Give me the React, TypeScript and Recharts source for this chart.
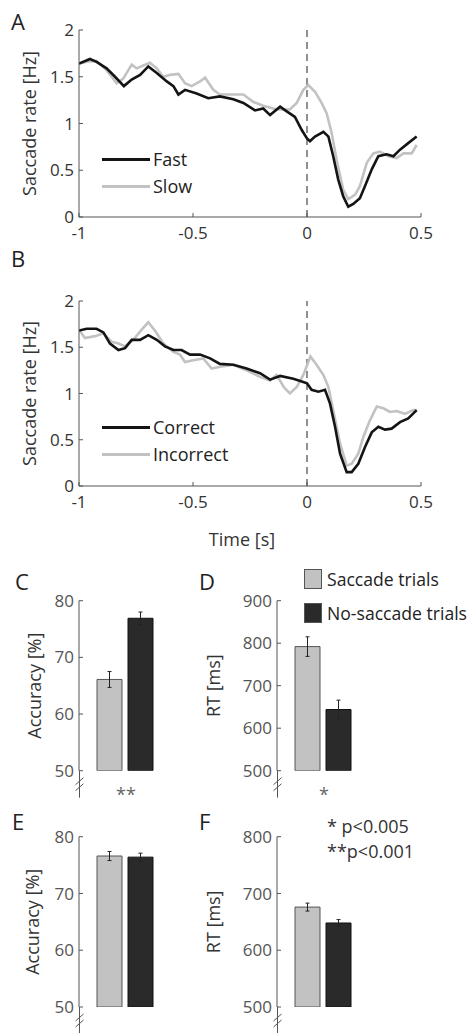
import React from 'react';
import { LineChart, Line, XAxis, YAxis, ReferenceLine, BarChart, Bar, ErrorBar, Legend } from 'recharts';

const FONT = '"Open Sans", sans-serif';
const AXIS = '#555';
const DARK = '#141414';
const LIGHT = '#c2c2c2';

// A: saccade rate, fast vs slow responses  [time s, rate Hz]
const fastA = [
  [-1, 1.64], [-0.952, 1.69], [-0.923, 1.66], [-0.879, 1.59], [-0.842, 1.5], [-0.803, 1.4],
  [-0.769, 1.47], [-0.732, 1.52], [-0.696, 1.61], [-0.659, 1.54], [-0.615, 1.45], [-0.586, 1.4],
  [-0.564, 1.31], [-0.535, 1.36], [-0.484, 1.32], [-0.433, 1.27], [-0.382, 1.29], [-0.323, 1.26],
  [-0.279, 1.22], [-0.228, 1.14], [-0.192, 1.16], [-0.162, 1.09], [-0.118, 1.18], [-0.089, 1.13],
  [-0.053, 1.07], [-0.023, 0.93], [0, 0.84], [0.013, 0.81], [0.035, 0.86], [0.072, 0.91],
  [0.094, 0.86], [0.115, 0.65], [0.137, 0.4], [0.159, 0.22], [0.181, 0.11], [0.203, 0.14],
  [0.232, 0.2], [0.254, 0.33], [0.284, 0.51], [0.313, 0.65], [0.349, 0.67], [0.379, 0.65],
  [0.408, 0.72], [0.444, 0.79], [0.481, 0.86],
];
const slowA = [
  [-1, 1.64], [-0.966, 1.66], [-0.923, 1.67], [-0.879, 1.57], [-0.835, 1.43], [-0.806, 1.48],
  [-0.769, 1.63], [-0.747, 1.59], [-0.718, 1.62], [-0.689, 1.65], [-0.659, 1.59], [-0.63, 1.5],
  [-0.601, 1.52], [-0.564, 1.53], [-0.535, 1.43], [-0.506, 1.4], [-0.469, 1.45], [-0.447, 1.49],
  [-0.411, 1.36], [-0.382, 1.31], [-0.323, 1.31], [-0.279, 1.31], [-0.235, 1.23], [-0.192, 1.19],
  [-0.133, 1.15], [-0.075, 1.15], [-0.045, 1.22], [-0.016, 1.36], [0.006, 1.41], [0.035, 1.34],
  [0.064, 1.22], [0.086, 1.11], [0.108, 0.9], [0.13, 0.61], [0.159, 0.29], [0.181, 0.19],
  [0.211, 0.24], [0.232, 0.33], [0.262, 0.58], [0.291, 0.68], [0.32, 0.7], [0.357, 0.65],
  [0.393, 0.63], [0.423, 0.68], [0.459, 0.68], [0.481, 0.77],
];

// B: correct vs incorrect
const correctB = [
  [-1, 1.68], [-0.966, 1.7], [-0.923, 1.7], [-0.893, 1.66], [-0.864, 1.54], [-0.827, 1.47],
  [-0.798, 1.49], [-0.769, 1.58], [-0.732, 1.58], [-0.696, 1.63], [-0.659, 1.58], [-0.623, 1.51],
  [-0.586, 1.47], [-0.55, 1.47], [-0.513, 1.42], [-0.469, 1.42], [-0.425, 1.38], [-0.382, 1.32],
  [-0.323, 1.31], [-0.265, 1.27], [-0.206, 1.22], [-0.162, 1.15], [-0.118, 1.19], [-0.06, 1.16],
  [-0.023, 1.13], [0, 1.11], [0.02, 1.04], [0.05, 1.02], [0.079, 1.04], [0.101, 0.89],
  [0.123, 0.64], [0.145, 0.35], [0.174, 0.15], [0.196, 0.15], [0.225, 0.24], [0.254, 0.42],
  [0.284, 0.58], [0.313, 0.64], [0.342, 0.61], [0.371, 0.62], [0.408, 0.69], [0.444, 0.73],
  [0.481, 0.82],
];
const incorrectB = [
  [-1, 1.69], [-0.974, 1.6], [-0.93, 1.62], [-0.893, 1.65], [-0.857, 1.56], [-0.827, 1.54],
  [-0.798, 1.51], [-0.762, 1.58], [-0.725, 1.69], [-0.696, 1.77], [-0.667, 1.68], [-0.63, 1.54],
  [-0.586, 1.45], [-0.557, 1.42], [-0.535, 1.34], [-0.499, 1.36], [-0.455, 1.38], [-0.418, 1.27],
  [-0.382, 1.29], [-0.323, 1.31], [-0.265, 1.25], [-0.206, 1.18], [-0.162, 1.14], [-0.133, 1.2],
  [-0.102, 1.07], [-0.075, 1.0], [-0.045, 1.07], [-0.016, 1.2], [0.015, 1.4], [0.042, 1.31],
  [0.072, 1.2], [0.094, 1.07], [0.115, 0.82], [0.145, 0.46], [0.174, 0.22], [0.196, 0.24],
  [0.225, 0.35], [0.247, 0.53], [0.276, 0.71], [0.306, 0.86], [0.335, 0.84], [0.364, 0.8],
  [0.393, 0.81], [0.43, 0.78], [0.466, 0.82], [0.481, 0.82],
];

const timeTicks = [-1, -0.5, 0, 0.5];
const rateTicks = [0, 0.5, 1, 1.5, 2];

// C-F: saccade vs no-saccade trials, mean and s.e.m.
const trialTypes = ['Saccade trials', 'No-saccade trials'];
const accC = [66.1, 76.9];
const accCErr = [1.4, 1.1];
const rtD = [792, 644];
const rtDErr = [23, 22];
const accE = [76.6, 76.4];
const accEErr = [0.8, 0.7];
const rtF = [676, 648];
const rtFErr = [7, 6];
const accTicks = [50, 60, 70, 80];
const rtTicksD = [500, 600, 700, 800, 900];
const rtTicksF = [500, 600, 700, 800];

const toPoints = (arr: number[][]) => arr.map(([t, v]) => ({ t, v }));

const barRow = (vals: number[], errs: number[]) => [
  { group: 'all', saccade: vals[0], noSaccade: vals[1], saccadeErr: errs[0], noSaccadeErr: errs[1] },
];

const TICK_MARGIN_X = 9;
const TICK_MARGIN_Y = 5;

function makeXTick(color: string) {
  return (props: any) => {
    const { x, y, payload } = props;
    const axisY = y - TICK_MARGIN_X;
    return (
      <g>
        <line x1={x} x2={x} y1={axisY} y2={axisY - 4} stroke={AXIS} />
        <text x={x} y={y} dy="0.75em" textAnchor="middle" fill={color} fontSize={17} fontFamily={FONT}>
          {payload.value}
        </text>
      </g>
    );
  };
}

function makeYTick(color: string) {
  return (props: any) => {
    const { x, y, payload } = props;
    const axisX = x + TICK_MARGIN_Y;
    return (
      <g>
        <line x1={axisX} x2={axisX + 4} y1={y} y2={y} stroke={AXIS} />
        <text x={x} y={y} dy="0.36em" textAnchor="end" fill={color} fontSize={17} fontFamily={FONT}>
          {payload.value}
        </text>
      </g>
    );
  };
}

function yLabel(text: string, dx: number) {
  return (props: any) => {
    const vb = props.viewBox;
    const cx = vb.x + dx;
    const cy = vb.y + vb.height / 2;
    return (
      <text x={cx} y={cy} transform={`rotate(-90 ${cx} ${cy})`} textAnchor="middle" dominantBaseline="central"
        fill="#333" fontSize={18} fontFamily={FONT}>
        {text}
      </text>
    );
  };
}

function timeLabel(props: any) {
  const vb = props.viewBox;
  return (
    <text x={vb.x + vb.width / 2 - 8} y={vb.y + 60} textAnchor="middle" fill="#333" fontSize={18} fontFamily={FONT}>
      Time [s]
    </text>
  );
}

interface RatePanelProps {
  top: number;
  height: number;
  marginTop: number;
  xAxisHeight: number;
  darkPts: number[][];
  lightPts: number[][];
  darkName: string;
  lightName: string;
  showTimeLabel?: boolean;
  legendTop: number;
}

function RatePanel(p: RatePanelProps) {
  const legendContent = () => (
    <div style={{ fontFamily: FONT, fontSize: 18, color: '#222', lineHeight: '27px' }}>
      {[{ n: p.darkName, c: DARK }, { n: p.lightName, c: LIGHT }].map((e) => (
        <div key={e.n} style={{ display: 'flex', alignItems: 'center' }}>
          <span style={{ display: 'inline-block', width: 48, height: 3, background: e.c, marginRight: 3 }} />
          {e.n}
        </div>
      ))}
    </div>
  );
  return (
    <div style={{ position: 'absolute', left: 0, top: p.top }}>
      <LineChart width={476} height={p.height} margin={{ top: p.marginTop, right: 55, bottom: 0, left: 0 }}>
        <XAxis type="number" dataKey="t" domain={[-1, 0.5]} ticks={timeTicks} allowDataOverflow
          height={p.xAxisHeight} tickSize={0} tickMargin={TICK_MARGIN_X} tickLine={false}
          stroke={AXIS} tick={makeXTick('#333')} label={p.showTimeLabel ? timeLabel : undefined} />
        <YAxis type="number" dataKey="v" domain={[0, 2]} ticks={rateTicks} width={79}
          tickSize={0} tickMargin={TICK_MARGIN_Y} tickLine={false} stroke={AXIS}
          tick={makeYTick('#333')} label={yLabel('Saccade rate [Hz]', 29)} />
        <ReferenceLine x={0} stroke="#555" strokeDasharray="7 5" strokeWidth={1.3} />
        <Line data={toPoints(p.lightPts)} dataKey="v" name={p.lightName} type="linear" stroke={LIGHT}
          strokeWidth={2.6} dot={false} isAnimationActive={false} />
        <Line data={toPoints(p.darkPts)} dataKey="v" name={p.darkName} type="linear" stroke={DARK}
          strokeWidth={2.6} dot={false} isAnimationActive={false} />
        <Legend layout="horizontal" verticalAlign="middle" content={legendContent}
          wrapperStyle={{ left: 102, top: p.legendTop, width: 'auto' }} />
      </LineChart>
    </div>
  );
}

interface BarPanelProps {
  left: number;
  top: number;
  width: number;
  height: number;
  axisWidth: number;
  marginTop: number;
  marginBottom: number;
  marginRight: number;
  vals: number[];
  errs: number[];
  domain: [number, number];
  ticks: number[];
  label: string;
  labelDx: number;
  legend?: boolean;
}

function BarPanel(p: BarPanelProps) {
  const legendContent = () => (
    <div style={{ fontFamily: FONT, fontSize: 17.6, color: '#222' }}>
      {[{ n: trialTypes[0], c: LIGHT }, { n: trialTypes[1], c: '#2a2a2a' }].map((e, i) => (
        <div key={e.n} style={{ display: 'flex', alignItems: 'center', marginBottom: i === 0 ? 14 : 0, height: 20 }}>
          <span style={{ display: 'inline-block', width: 16, height: 18, background: e.c, border: '1px solid #555', marginRight: 5 }} />
          {e.n}
        </div>
      ))}
    </div>
  );
  return (
    <div style={{ position: 'absolute', left: p.left, top: p.top }}>
      <BarChart width={p.width} height={p.height} data={barRow(p.vals, p.errs)}
        margin={{ top: p.marginTop, right: p.marginRight, bottom: p.marginBottom, left: 0 }}
        barCategoryGap={18} barGap={6} barSize={25}>
        <XAxis dataKey="group" hide />
        <YAxis type="number" domain={p.domain} ticks={p.ticks} width={p.axisWidth} allowDataOverflow
          tickSize={0} tickMargin={TICK_MARGIN_Y} tickLine={false} stroke={AXIS}
          tick={makeYTick('#555')} label={yLabel(p.label, p.labelDx)} />
        <Bar dataKey="saccade" name={trialTypes[0]} fill={LIGHT} stroke="#555" strokeWidth={1} isAnimationActive={false}>
          <ErrorBar dataKey="saccadeErr" width={2} stroke="#222" strokeWidth={1} direction="y" />
        </Bar>
        <Bar dataKey="noSaccade" name={trialTypes[1]} fill="#2a2a2a" stroke="#111" strokeWidth={1} isAnimationActive={false}>
          <ErrorBar dataKey="noSaccadeErr" width={2} stroke="#222" strokeWidth={1} direction="y" />
        </Bar>
        {p.legend && (
          <Legend layout="horizontal" verticalAlign="middle" content={legendContent}
            wrapperStyle={{ left: 104, top: 9, width: 'auto' }} />
        )}
      </BarChart>
    </div>
  );
}

function AxisBreak({ x, y, len }: { x: number; y: number; len: number }) {
  return (
    <g stroke={AXIS} strokeWidth={1}>
      <line x1={x} x2={x} y1={y} y2={y + len} />
      <line x1={x - 4} y1={y + 14} x2={x + 4} y2={y + 7} />
      <line x1={x - 4} y1={y + 20} x2={x + 4} y2={y + 13} />
    </g>
  );
}

export default function App() {
  const letter = { fontSize: 22, fontFamily: FONT, fill: '#222' };
  const note = { fontSize: 18, fontFamily: FONT, fill: '#333' };
  return (
    <div style={{ position: 'absolute', left: 0, top: 0, width: 476, height: 1033, overflow: 'hidden', background: '#fff' }}>
      <RatePanel top={0} height={245} marginTop={30} xAxisHeight={28} darkPts={fastA} lightPts={slowA}
        darkName="Fast" lightName="Slow" legendTop={146} />
      <RatePanel top={250} height={300} marginTop={51} xAxisHeight={64} darkPts={correctB} lightPts={incorrectB}
        darkName="Correct" lightName="Incorrect" showTimeLabel legendTop={164} />
      <BarPanel left={0} top={560} width={200} height={250} axisWidth={79} marginTop={40.7} marginBottom={39.3}
        marginRight={29} vals={accC} errs={accCErr} domain={[50, 80]} ticks={accTicks} label="Accuracy [%]" labelDx={34} />
      <BarPanel left={200} top={560} width={276} height={250} axisWidth={77} marginTop={40.7} marginBottom={39.3}
        marginRight={107} vals={rtD} errs={rtDErr} domain={[500, 900]} ticks={rtTicksD} label="RT [ms]" labelDx={13} legend />
      <BarPanel left={0} top={800} width={200} height={233} axisWidth={79} marginTop={36.7} marginBottom={26}
        marginRight={29} vals={accE} errs={accEErr} domain={[50, 80]} ticks={accTicks} label="Accuracy [%]" labelDx={32} />
      <BarPanel left={200} top={800} width={276} height={233} axisWidth={77} marginTop={36.7} marginBottom={26}
        marginRight={107} vals={rtF} errs={rtFErr} domain={[500, 800]} ticks={rtTicksF} label="RT [ms]" labelDx={13} />
      <svg width={476} height={1033} style={{ position: 'absolute', left: 0, top: 0, pointerEvents: 'none' }}>
        <text x={11} y={30} {...letter}>A</text>
        <text x={11} y={267} {...letter}>B</text>
        <text x={15} y={590} {...letter}>C</text>
        <text x={199} y={590} {...letter}>D</text>
        <text x={12} y={830} {...letter}>E</text>
        <text x={199} y={830} {...letter}>F</text>
        <AxisBreak x={79.5} y={770.7} len={27} />
        <AxisBreak x={277.5} y={770.7} len={27} />
        <AxisBreak x={79.5} y={1007} len={26} />
        <AxisBreak x={277.5} y={1007} len={26} />
        <text x={126} y={801} textAnchor="middle" {...note} fill="#666">**</text>
        <text x={324} y={801} textAnchor="middle" {...note} fill="#666">*</text>
        <text x={327} y={833} {...note}>* p&lt;0.005</text>
        <text x={327} y={858} {...note}>**p&lt;0.001</text>
      </svg>
    </div>
  );
}
